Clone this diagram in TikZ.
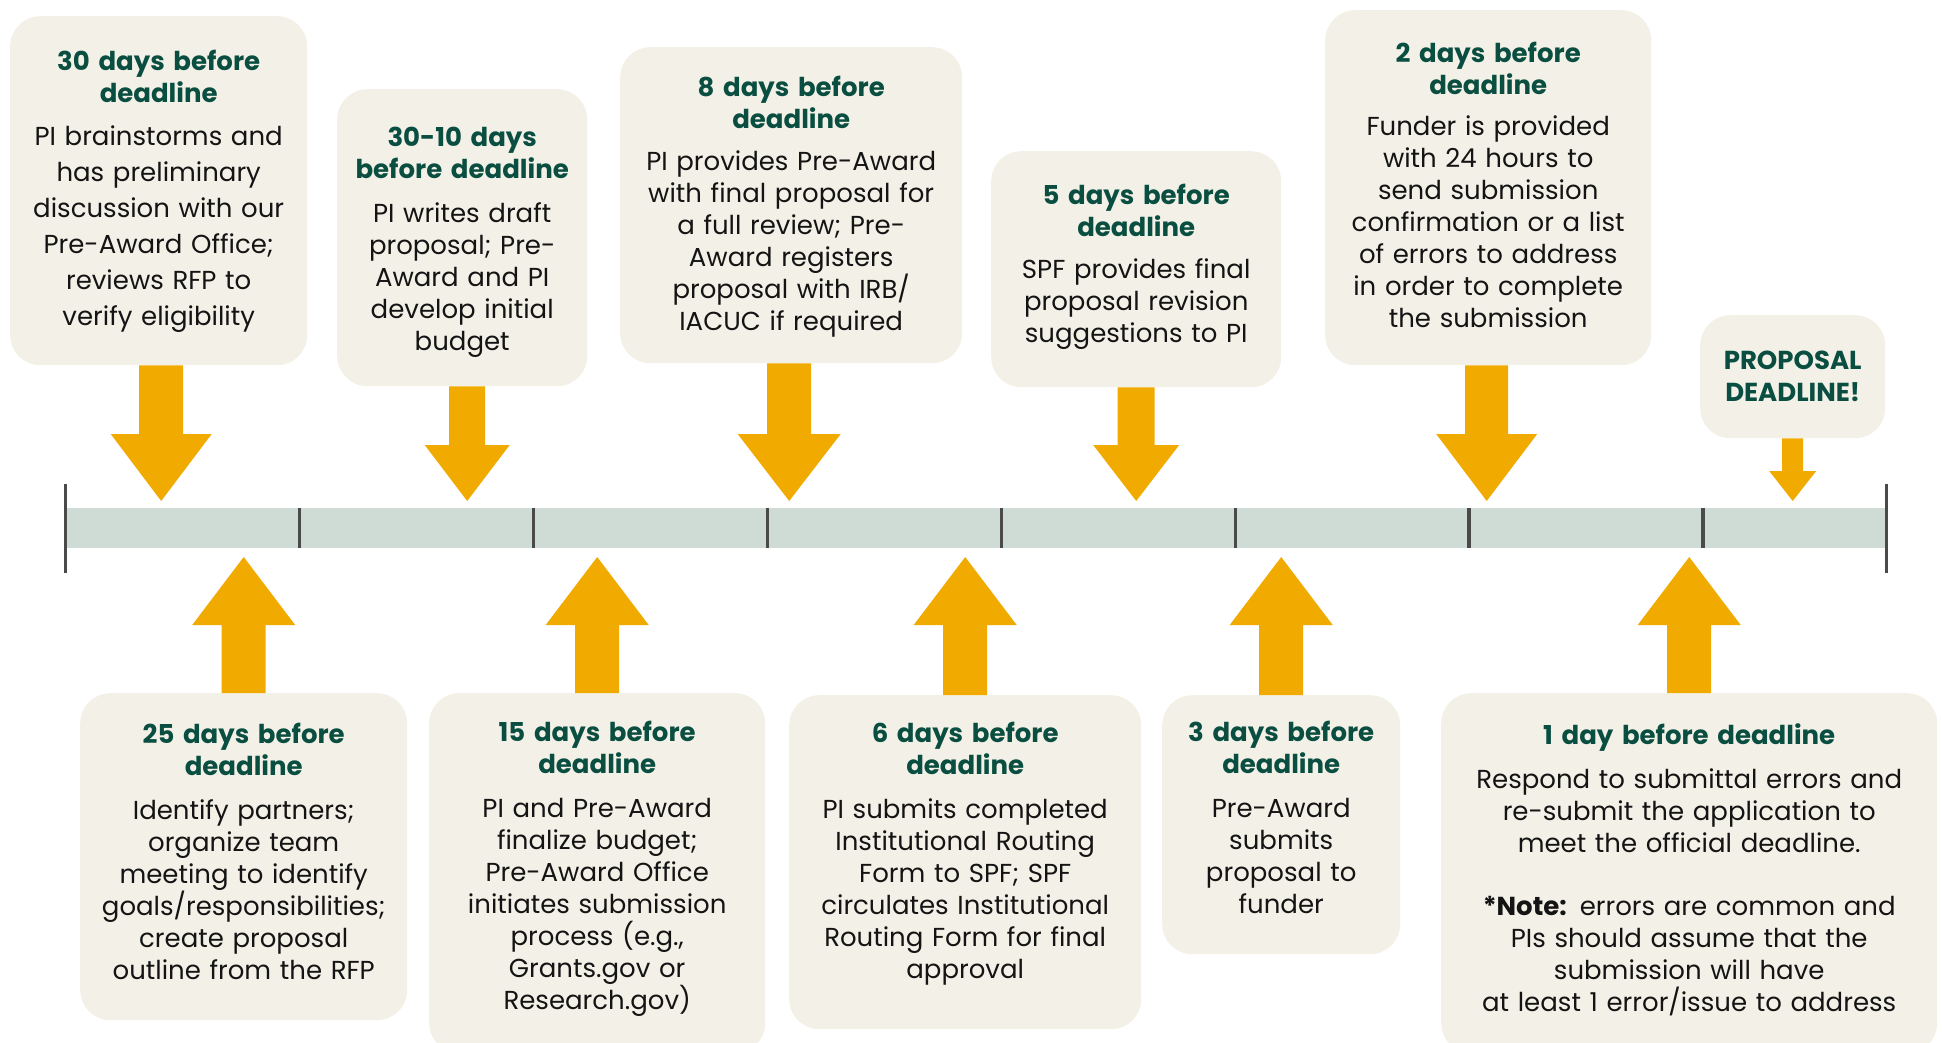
\documentclass[tikz,border=0pt]{standalone}
\usepackage{fontspec}
\setmainfont{Poppins}
\usetikzlibrary{positioning, calc}

\definecolor{cardfill}{RGB}{243,241,231}
\definecolor{headgreen}{RGB}{9,78,64}
\definecolor{arrowgold}{RGB}{240,170,0}
\definecolor{barfill}{RGB}{207,219,213}
\definecolor{tickgrey}{RGB}{74,74,74}

% heading of a card, in green bold
\newcommand\headfont{\color{headgreen}\bfseries\fontsize{26}{32}\selectfont}

% fat block arrow: tail, tip, half shaft, half head, head length
\newcommand\blockarrow[5]{%
  \coordinate (ah) at ($(#2)!#5!(#1)$);
  \fill[arrowgold] ($(#1)!#3!90:(#2)$) -- ($(ah)!#3!90:(#2)$) -- ($(ah)!#4!90:(#2)$)
    -- (#2) -- ($(ah)!#4!-90:(#2)$) -- ($(ah)!#3!-90:(#2)$) -- ($(#1)!#3!-90:(#2)$) -- cycle;}

\begin{document}
\begin{tikzpicture}[
    x=1pt, y=-1pt,
    card/.style={fill=cardfill, rounded corners=30pt, inner sep=0pt, anchor=north west},
    txt/.style={align=center, inner sep=0pt, text=black!92,
                font=\fontsize{26}{32}\selectfont},
    bar/.style={fill=barfill, inner sep=0pt, anchor=north west},
    tick/.style={draw=tickgrey, line width=3.2pt},
]
\useasboundingbox (0,0) rectangle (1942,1043);
\clip (0,0) rectangle (1942,1043);

\coordinate (tipline) at (0,501);
\coordinate (tiplow) at (0,557);

% the time line
\node[bar, minimum width=1820.6pt, minimum height=39.6pt] (line) at (65.6,508) {};
\foreach \k in {1,...,7}
  \draw[tick] ($(line.north west)+(\k*233.9,0)$) -- ++(0,39.6);
\draw[tick] ($(line.west)+(0,-44.5)$) -- ($(line.west)+(0,44.5)$);
\draw[tick] ($(line.east)+(0,-44.5)$) -- ($(line.east)+(0,44.5)$);

% cards above the line
\node[card, minimum width=297pt, minimum height=349pt] (b30) at (10,16) {};
\node[txt, text width=297pt, below=34pt of b30.north, font=\fontsize{26}{36}\selectfont] (t30)
  {{\headfont 30 days before\\deadline\\[7pt]}PI brainstorms and\\has preliminary\\discussion with our\\Pre-Award Office;\\reviews RFP to\\verify eligibility};

\node[card, minimum width=250pt, minimum height=297pt] (b3010) at (337,89) {};
\node[txt, text width=250pt, below=38pt of b3010.north] (t3010)
  {{\headfont 30-10 days\\before deadline\\[12pt]}PI writes draft\\proposal; Pre-\\Award and PI\\develop initial\\budget};

\node[card, minimum width=342pt, minimum height=316pt] (b8) at (620,47) {};
\node[txt, text width=342pt, below=29pt of b8.north] (t8)
  {{\headfont 8 days before\\deadline\\[10pt]}PI provides Pre-Award\\with final proposal for\\a full review; Pre-\\Award registers\\proposal with IRB/\\IACUC if required};

\node[card, minimum width=290pt, minimum height=236pt] (b5) at (991,151) {};
\node[txt, text width=290pt, below=33pt of b5.north] (t5)
  {{\headfont 5 days before\\deadline\\[10pt]}SPF provides final\\proposal revision\\suggestions to PI};

\node[card, minimum width=326pt, minimum height=355pt] (b2) at (1325,10) {};
\node[txt, text width=326pt, below=32pt of b2.north] (t2)
  {{\headfont 2 days before\\deadline\\[9pt]}Funder is provided\\with 24 hours to\\send submission\\confirmation or a list\\of errors to address\\in order to complete\\the submission};

\node[card, minimum width=185pt, minimum height=123pt] (bpd) at (1700,315) {};
\node[txt, text width=185pt, below=36pt of bpd.north] (tpd)
  {{\headfont PROPOSAL\\DEADLINE!}};

% cards below the line
\node[card, minimum width=327pt, minimum height=327pt] (b25) at (80,693) {};
\node[txt, text width=327pt, below=30pt of b25.north] (t25)
  {{\headfont 25 days before\\deadline\\[12pt]}Identify partners;\\organize team\\meeting to identify\\goals/responsibilities;\\create proposal\\outline from the RFP};

\node[card, minimum width=336pt, minimum height=360pt] (b15) at (429,693) {};
\node[txt, text width=336pt, below=28pt of b15.north] (t15)
  {{\headfont 15 days before\\deadline\\[12pt]}PI and Pre-Award\\finalize budget;\\Pre-Award Office\\initiates submission\\process (e.g.,\\Grants.gov or\\Research.gov)};

\node[card, minimum width=352pt, minimum height=334pt] (b6) at (789,695) {};
\node[txt, text width=352pt, below=27pt of b6.north] (t6)
  {{\headfont 6 days before\\deadline\\[12pt]}PI submits completed\\Institutional Routing\\Form to SPF; SPF\\circulates Institutional\\Routing Form for final\\approval};

\node[card, minimum width=238pt, minimum height=259pt] (b3) at (1162,695) {};
\node[txt, text width=238pt, below=26pt of b3.north] (t3)
  {{\headfont 3 days before\\deadline\\[12pt]}Pre-Award\\submits\\proposal to\\funder};

\node[card, minimum width=496pt, minimum height=360pt] (b1) at (1441,693) {};
\node[txt, text width=496pt, below=30pt of b1.north] (t1)
  {{\headfont 1 day before deadline\\[12pt]}Respond to submittal errors and\\re-submit the application to\\meet the official deadline.\\[31pt]\textbf{*Note:} errors are common and\\PIs should assume that the\\submission will have\\at least 1 error/issue to address};

% arrows down onto the line
\blockarrow{$(b30.south)+(2.5,0)$}{$(b30.south |- tipline)+(2.5,0)$}{22pt}{50.5pt}{67pt}
\blockarrow{$(b3010.south)+(5,0)$}{$(b3010.south |- tipline)+(5,0)$}{18pt}{42.5pt}{56pt}
\blockarrow{$(b8.south)+(-2,0)$}{$(b8.south |- tipline)+(-2,0)$}{22pt}{51.5pt}{67pt}
\blockarrow{b5.south}{b5.south |- tipline}{18.5pt}{43pt}{56pt}
\blockarrow{$(b2.south)+(-1.5,0)$}{$(b2.south |- tipline)+(-1.5,0)$}{21.5pt}{50.5pt}{67pt}
\blockarrow{bpd.south}{bpd.south |- tipline}{10.5pt}{23.5pt}{30pt}

% arrows up onto the line
\foreach \b in {b25,b15,b6,b3,b1}
  \blockarrow{\b.north}{\b.north |- tiplow}{22pt}{51.5pt}{68pt};
\end{tikzpicture}
\end{document}
